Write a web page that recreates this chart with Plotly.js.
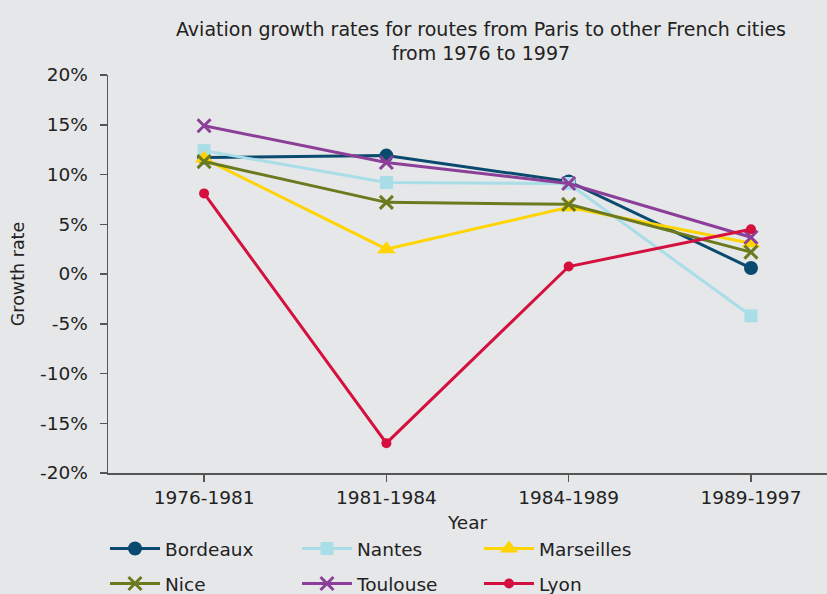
<!DOCTYPE html>
<html>
<head>
<meta charset="utf-8">
<script src="https://cdn.plot.ly/plotly-3.0.1.min.js"></script>
<style>body{margin:0;padding:0;background:#e6e7e9;}</style>
</head>
<body>
<div id="chart" style="width:827px;height:594px;"></div>
<script>
const periods = ["1976-1981", "1981-1984", "1984-1989", "1989-1997"];
const bordeaux = [11.7, 11.9, 9.3, 0.6];
const nantes = [12.4, 9.2, 9.1, -4.2];
const marseilles = [11.6, 2.5, 6.7, 3.1];
const nice = [11.3, 7.2, 7.0, 2.2];
const toulouse = [14.9, 11.2, 9.1, 3.7];
const lyon = [8.1, -17.0, 0.75, 4.5];
const yTickVals = [-20, -15, -10, -5, 0, 5, 10, 15, 20];
const yTickText = ["-20%", "-15%", "-10%", "-5%", "0%", "5%", "10%", "15%", "20%"];

const FONT = "DejaVu Sans, Verdana, sans-serif";
const FS = 18.5;
const series = [
  {name: "Bordeaux", y: bordeaux, color: "#0b4a6f", symbol: "circle", size: 14, legend: "legend"},
  {name: "Nantes", y: nantes, color: "#a9dde8", symbol: "square", size: 13, legend: "legend2"},
  {name: "Marseilles", y: marseilles, color: "#ffd400", symbol: "triangle-up", size: 16, legend: "legend3"},
  {name: "Nice", y: nice, color: "#6b7a1f", symbol: "x-thin", size: 13, legend: "legend4"},
  {name: "Toulouse", y: toulouse, color: "#8c3f98", symbol: "x-thin", size: 13, legend: "legend5"},
  {name: "Lyon", y: lyon, color: "#d4103f", symbol: "circle", size: 10, legend: "legend6"}
];

const traces = series.map(s => ({
  type: "scatter", mode: "lines+markers", name: s.name,
  x: periods, y: s.y, legend: s.legend,
  line: {color: s.color, width: 3},
  marker: {color: s.color, symbol: s.symbol, size: s.size,
           line: {color: s.color, width: s.symbol === "x-thin" ? 3 : 0}}
}));

function px2x(px){ return (px - 108) / 719; }
function py2y(py){ return (473 - py) / 398; }
function leg(px, py){
  return {x: px2x(px), y: py2y(py), xanchor: "left", yanchor: "middle",
          bgcolor: "rgba(0,0,0,0)", itemwidth: 50,
          font: {family: FONT, size: FS, color: "#222"}};
}

const layout = {
  width: 827, height: 594,
  paper_bgcolor: "#e6e7e9", plot_bgcolor: "#e6e7e9",
  margin: {l: 108, r: 0, t: 75, b: 121, autoexpand: false},
  title: {text: "Aviation growth rates for routes from Paris to other French cities<br>from 1976 to 1997",
          font: {family: FONT, size: 19, color: "#222"},
          x: 481 / 827, xref: "container", xanchor: "center", y: 0.94, yref: "container", yanchor: "top"},
  xaxis: {type: "category", range: [-0.527, 3.417], showgrid: false, zeroline: false,
          showline: true, linecolor: "#555", linewidth: 1.5,
          ticks: "outside", ticklen: 7, tickcolor: "#555", tickwidth: 1.5,
          tickfont: {family: FONT, size: FS, color: "#222"},
          title: {text: "Year", font: {family: FONT, size: FS, color: "#222"}, standoff: 9}},
  yaxis: {range: [-20, 20], tickvals: yTickVals, ticktext: yTickText, showgrid: false, zeroline: false,
          showline: true, linecolor: "#555", linewidth: 1.5,
          ticks: "outside", ticklen: 7, tickcolor: "#555", tickwidth: 1.5, ticklabelstandoff: 8,
          tickfont: {family: FONT, size: FS, color: "#222"},
          title: {text: "Growth rate", font: {family: FONT, size: 17.5, color: "#222"}, standoff: 11}},
  showlegend: true,
  legend: leg(105, 549), legend2: leg(297, 549), legend3: leg(479, 549),
  legend4: leg(105, 584), legend5: leg(297, 584), legend6: leg(479, 584)
};
Plotly.newPlot("chart", traces, layout, {displayModeBar: false, staticPlot: true});
</script>
</body>
</html>
